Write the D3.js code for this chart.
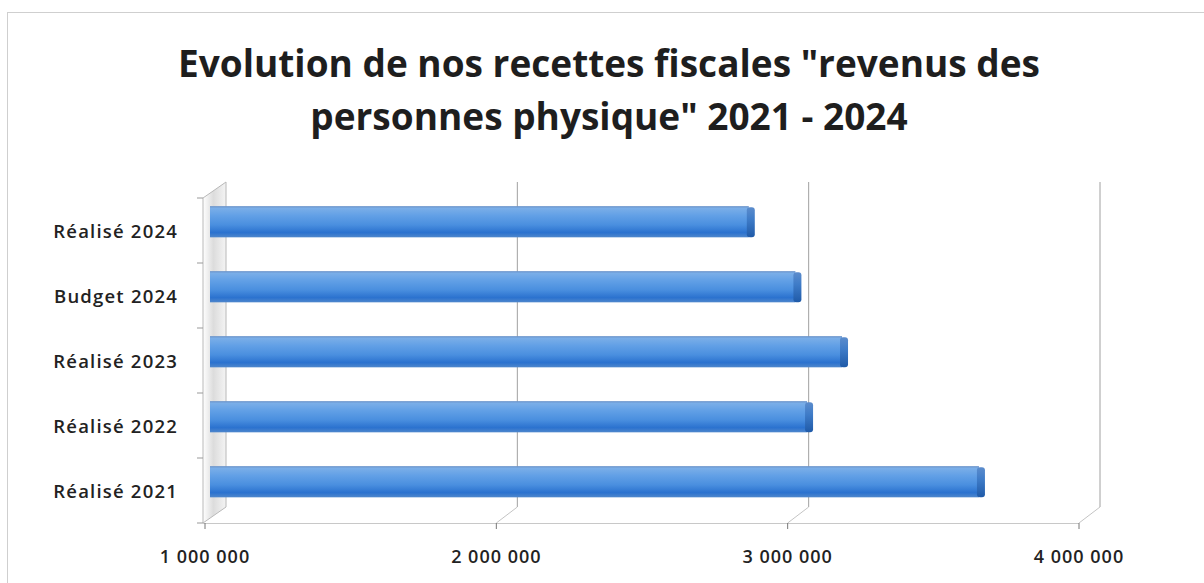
<!DOCTYPE html>
<html>
<head>
<meta charset="utf-8">
<script src="https://cdn.jsdelivr.net/npm/d3@7"></script>
<style>
  html, body { margin: 0; padding: 0; background: #fff; }
  svg { display: block; }
</style>
</head>
<body>
<svg id="chart" width="1204" height="583"></svg>
<script>
// ---- data ----
const categories = ["Réalisé 2024", "Budget 2024", "Réalisé 2023", "Réalisé 2022", "Réalisé 2021"];
const values = [2870000, 3030000, 3190000, 3070000, 3660000];
const tickValues = [1000000, 2000000, 3000000, 4000000];
const tickLabels = ["1 000 000", "2 000 000", "3 000 000", "4 000 000"];
const titleLines = ["Evolution de nos recettes fiscales \"revenus des", "personnes physique\" 2021 - 2024"];

const svg = d3.select("#chart");
const W = 1204, H = 583;

// frame
svg.append("rect").attr("x", 7.5).attr("y", 12.5).attr("width", W + 10).attr("height", H + 10)
  .attr("fill", "#fff").attr("stroke", "#cfcfcf").attr("stroke-width", 1);

// title
const title = svg.append("g").attr("font-family", "'Open Sans', Lato, sans-serif")
  .attr("font-weight", "bold").attr("font-size", 37).attr("fill", "#1e1e1e").attr("text-anchor", "middle");
titleLines.forEach((t, i) => {
  title.append("text").attr("x", 609).attr("y", 77 + i * 53).text(t);
});

// 3D geometry
const depthDx = 21, depthDy = -16;
const x = d3.scaleLinear().domain([1000000, 4000000]).range([205, 1079]);
const y = d3.scaleBand().domain(categories).range([198, 523]).padding(0);
const floorY = 523;
const backTop = 182, backBottom = floorY + depthDy;

const defs = svg.append("defs");
const wallGrad = defs.append("linearGradient").attr("id", "wallGrad").attr("x1", 0).attr("x2", 1).attr("y1", 0).attr("y2", 0);
wallGrad.append("stop").attr("offset", "0%").attr("stop-color", "#ffffff");
wallGrad.append("stop").attr("offset", "45%").attr("stop-color", "#dcdcdc");
wallGrad.append("stop").attr("offset", "100%").attr("stop-color", "#f4f4f4");

const barGrad = defs.append("linearGradient").attr("id", "barGrad").attr("x1", 0).attr("x2", 0).attr("y1", 0).attr("y2", 1);
[["0%", "#6a92c8"], ["7%", "#7aaee8"], ["30%", "#62a0e6"], ["60%", "#4a8fdf"], ["85%", "#2b72cf"], ["100%", "#4f87cc"]]
  .forEach(([o, c]) => barGrad.append("stop").attr("offset", o).attr("stop-color", c));

const capGrad = defs.append("linearGradient").attr("id", "capGrad").attr("x1", 0).attr("x2", 0).attr("y1", 0).attr("y2", 1);
[["0%", "#5c8ccc"], ["40%", "#3f7cc8"], ["100%", "#1f5aa8"]]
  .forEach(([o, c]) => capGrad.append("stop").attr("offset", o).attr("stop-color", c));

// left wall
const x0 = x(1000000);
svg.append("path")
  .attr("d", `M${x0 - 2},${y.range()[0]} L${x0 + depthDx},${backTop} L${x0 + depthDx},${backBottom} L${x0 - 2},${floorY} Z`)
  .attr("fill", "url(#wallGrad)").attr("stroke", "#b8b8b8").attr("stroke-width", 1);

// back wall gridlines + floor slants
const grid = svg.append("g").attr("stroke", "#a0a0a0").attr("stroke-width", 1).attr("fill", "none");
tickValues.slice(1).forEach(v => {
  grid.append("line").attr("x1", x(v) + depthDx).attr("x2", x(v) + depthDx)
    .attr("y1", backTop).attr("y2", backBottom);
  grid.append("line").attr("x1", x(v)).attr("y1", floorY).attr("x2", x(v) + depthDx).attr("y2", backBottom)
    .attr("stroke", "#c4c4c4");
});

// floor front edge
svg.append("line").attr("x1", x0 - 2).attr("x2", x(4000000)).attr("y1", floorY + 0.5).attr("y2", floorY + 0.5)
  .attr("stroke", "#c8c8c8").attr("stroke-width", 1.2);

// x axis ticks & labels
const xAxis = svg.append("g").attr("font-family", "'Open Sans', Lato, sans-serif").attr("font-size", 18)
  .attr("font-weight", 600).attr("letter-spacing", "1").attr("fill", "#222");
tickValues.forEach((v, i) => {
  xAxis.append("line").attr("x1", x(v)).attr("x2", x(v)).attr("y1", floorY).attr("y2", floorY + 6)
    .attr("stroke", "#777").attr("stroke-width", 1);
  xAxis.append("text").attr("x", x(v)).attr("y", 563).attr("text-anchor", "middle").text(tickLabels[i]);
});

// y axis ticks & labels
const yAxis = svg.append("g").attr("font-family", "'Open Sans', Lato, sans-serif").attr("font-size", 18.5)
  .attr("font-weight", 600).attr("letter-spacing", "1.2").attr("fill", "#222");
categories.forEach((c, i) => {
  yAxis.append("line").attr("x1", x0 - 8).attr("x2", x0 - 2).attr("y1", y(c)).attr("y2", y(c))
    .attr("stroke", "#999");
  yAxis.append("text").attr("x", 178).attr("y", y(c) + y.bandwidth() / 2 + 2).attr("dy", "0.32em")
    .attr("text-anchor", "end").text(c);
});
yAxis.append("line").attr("x1", x0 - 8).attr("x2", x0 - 2).attr("y1", floorY).attr("y2", floorY).attr("stroke", "#999");

// bars
const barDx = 5;
const barTopOff = y.bandwidth() * 0.125, barH = y.bandwidth() * 0.48;
const capW = 8;
const bars = svg.append("g");
categories.forEach((c, i) => {
  const bx = x(1000000) + barDx, ex = x(values[i]) + barDx;
  const by = y(c) + barTopOff;
  bars.append("rect").attr("x", bx).attr("y", by).attr("width", ex - bx - capW + 2).attr("height", barH)
    .attr("fill", "url(#barGrad)");
  bars.append("rect").attr("x", ex - capW).attr("y", by + 1).attr("width", capW).attr("height", barH - 1)
    .attr("rx", 3).attr("fill", "url(#capGrad)");
});
</script>
</body>
</html>
